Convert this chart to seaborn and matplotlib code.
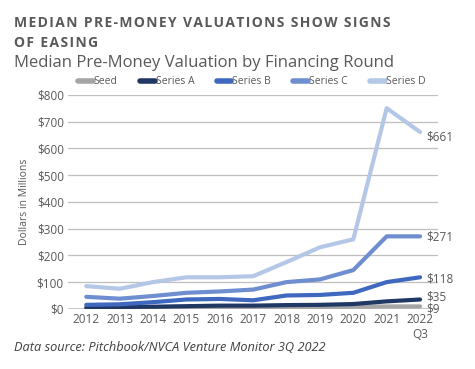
# Median pre-money valuation by financing round
import pandas as pd
import matplotlib.pyplot as plt
import seaborn as sns

# -------------------------------
# Data (values in $M)
# -------------------------------
years = ["2012", "2013", "2014", "2015", "2016", "2017", "2018", "2019", "2020", "2021", "2022\nQ3"]
seed = [3, 3, 4, 5, 5, 6, 6, 7, 8, 9, 9]
series_a = [5, 7, 8, 10, 12, 12, 14, 15, 18, 28, 35]
series_b = [15, 17, 25, 35, 37, 32, 50, 52, 60, 100, 118]
series_c = [45, 38, 48, 60, 65, 72, 100, 110, 145, 271, 271]
series_d = [85, 75, 100, 118, 118, 122, 175, 230, 260, 750, 661]
end_labels = ["$9", "$35", "$118", "$271", "$661"]

rounds = ["Seed", "Series A", "Series B", "Series C", "Series D"]
colors = ["#A5A5A5", "#203864", "#3F69BE", "#6E8ED0", "#B4C7E7"]

df = pd.DataFrame({"Year": years, "Seed": seed, "Series A": series_a,
                   "Series B": series_b, "Series C": series_c, "Series D": series_d})
long = df.melt(id_vars="Year", var_name="Round", value_name="Value")
long["x"] = long["Year"].map({y: i for i, y in enumerate(years)})


def spaced(s):
    # widen letter spacing with hair spaces
    return "\u200a".join(s)


# -------------------------------
# Plot
# -------------------------------
sns.set_style("white")
plt.rcParams["font.family"] = ["Open Sans", "DejaVu Sans"]

fig = plt.figure(figsize=(4.75, 3.69), dpi=100)
ax = fig.add_axes([0.143, 0.163, 0.78, 0.58])

sns.lineplot(data=long, x="x", y="Value", hue="Round", hue_order=rounds,
             palette=colors, linewidth=3, ax=ax, legend=False)

ax.set_xlim(-0.55, 10.55)
ax.set_ylim(0, 800)
ax.set_yticks(range(0, 801, 100))
ax.set_yticklabels([f"${v}" for v in range(0, 801, 100)], color="#595959", fontsize=8.5)
ax.set_xticks(range(len(years)))
ax.set_xticklabels(years, color="#595959", fontsize=8.5)
ax.tick_params(length=0, pad=3)
ax.grid(axis="y", color="#BFBFBF", linewidth=0.9)
ax.set_axisbelow(True)
for s in ax.spines.values():
    s.set_visible(False)
ax.axhline(0, color="#BFBFBF", linewidth=1.2, zorder=0)
ax.set_xlabel("")
ax.set_ylabel("Dollars in Millions", color="#595959", fontsize=7.5, labelpad=5)

# end-of-line value labels (placed where the reference puts them)
label_pos = [0, 45, 112, 269, 643]
for lab, v in zip(end_labels, label_pos):
    ax.text(10.2, v, lab, color="#595959", fontsize=8.5, va="center", ha="left")

# legend
handles = [plt.Line2D([0], [0], color=c, linewidth=4) for c in colors]
fig.legend(handles, rounds, loc="center", bbox_to_anchor=(0.53, 0.778), ncol=5,
           frameon=False, fontsize=7.5, handlelength=1.4, handletextpad=0.1,
           columnspacing=2.15, labelcolor="#595959")

# titles
fig.text(0.03, 0.927, spaced("MEDIAN PRE-MONEY VALUATIONS SHOW SIGNS"),
         fontsize=10, fontweight="bold", color="#595959")
fig.text(0.03, 0.872, spaced("OF EASING"), fontsize=10, fontweight="bold", color="#595959")
fig.text(0.03, 0.818, "Median Pre-Money Valuation by Financing Round", fontsize=12,
         color="#595959")
fig.text(0.03, 0.05, "Data source: Pitchbook/NVCA Venture Monitor 3Q 2022", fontsize=9.2,
         style="italic", color="#404040")

plt.savefig("out.png", dpi=100)
